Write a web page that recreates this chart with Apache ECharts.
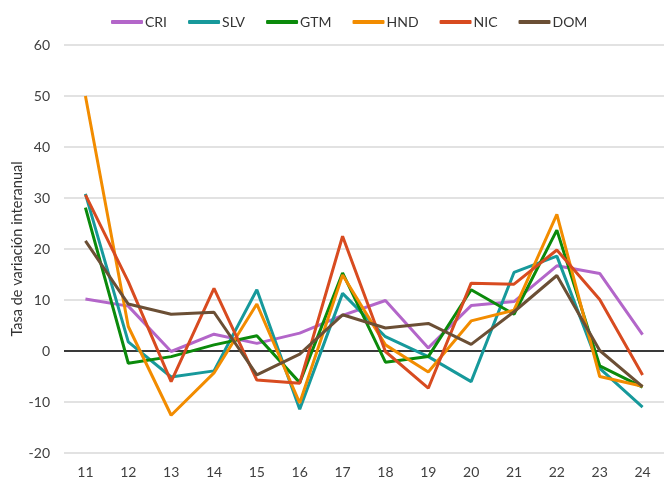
<!DOCTYPE html>
<html>
<head>
<meta charset="utf-8">
<script src="https://cdn.jsdelivr.net/npm/echarts@6/dist/echarts.min.js"></script>
<style>
    html, body { margin: 0; padding: 0; background: #fff; }
    #chart { width: 668px; height: 482px; }
</style>
</head>
<body>
<div id="chart"></div>
<script>
// years (20xx)
var years = ['11', '12', '13', '14', '15', '16', '17', '18', '19', '20', '21', '22', '23', '24'];

var cri = [10.2, 8.8, -0.1, 3.3, 1.5, 3.5, 7.0, 9.9, 0.6, 8.9, 9.7, 16.7, 15.2, 3.2];
var slv = [30.8, 1.8, -5.1, -3.9, 12.0, -11.4, 11.3, 2.8, -1.1, -6.0, 15.4, 18.6, -3.4, -11.0];
var gtm = [28.1, -2.4, -1.1, 1.2, 3.0, -6.2, 15.3, -2.2, -1.1, 12.0, 7.2, 23.7, -2.9, -7.1];
var hnd = [50.0, 4.8, -12.6, -4.3, 9.2, -10.2, 14.9, 1.2, -4.1, 5.9, 8.0, 26.8, -5.0, -6.9];
var nic = [30.6, 13.6, -6.0, 12.3, -5.7, -6.3, 22.5, -0.1, -7.3, 13.3, 13.1, 19.8, 10.1, -4.7];
var dom = [21.6, 9.2, 7.2, 7.6, -4.7, -0.6, 7.1, 4.5, 5.4, 1.3, 7.7, 14.8, 0.1, -7.0];

var names = ['CRI', 'SLV', 'GTM', 'HND', 'NIC', 'DOM'];
var colors = ['#b366c9', '#17999b', '#0b8a0b', '#f28c00', '#d84b20', '#6b4f35'];
var values = [cri, slv, gtm, hnd, nic, dom];

var font = 'Lato, "DejaVu Sans", sans-serif';

var series = names.map(function (n, i) {
    var s = {
        name: n,
        type: 'line',
        data: values[i],
        symbol: 'none',
        lineStyle: { width: 3, color: colors[i] },
        itemStyle: { color: colors[i] },
        z: 3
    };
    if (i == 0) {
        // zero line
        s.markLine = {
            silent: true,
            symbol: 'none',
            label: { show: false },
            lineStyle: { color: '#000', width: 1.5, type: 'solid' },
            data: [{ yAxis: 0 }],
            z: 1
        };
    }
    return s;
});

var myChart = echarts.init(document.getElementById('chart'));
myChart.setOption({
    animation: false,
    color: colors,
    textStyle: { fontFamily: font },
    legend: {
        top: 10,
        left: 106,
        itemWidth: 32,
        itemHeight: 4,
        itemGap: 21,
        icon: 'roundRect',
        textStyle: { color: '#333', fontSize: 14, padding: [0, 0, 0, -3] },
        data: names
    },
    grid: { left: 64, right: 4, top: 45, bottom: 29, outerBoundsMode: 'none' },
    xAxis: {
        type: 'category',
        data: years,
        boundaryGap: true,
        axisLine: { show: false },
        axisTick: { show: false },
        axisLabel: { color: '#404040', fontSize: 14, margin: 12 }
    },
    yAxis: {
        type: 'value',
        min: -20,
        max: 60,
        interval: 10,
        name: 'Tasa de variación interanual',
        nameLocation: 'middle',
        nameGap: 39,
        nameMoveOverlap: false,
        nameTextStyle: { color: '#333', fontSize: 14.5 },
        axisLine: { show: false },
        axisTick: { show: false },
        axisLabel: { color: '#404040', fontSize: 14, margin: 14 },
        splitLine: { lineStyle: { color: '#d9d9d9', width: 1.5 } }
    },
    series: series
});
</script>
</body>
</html>
